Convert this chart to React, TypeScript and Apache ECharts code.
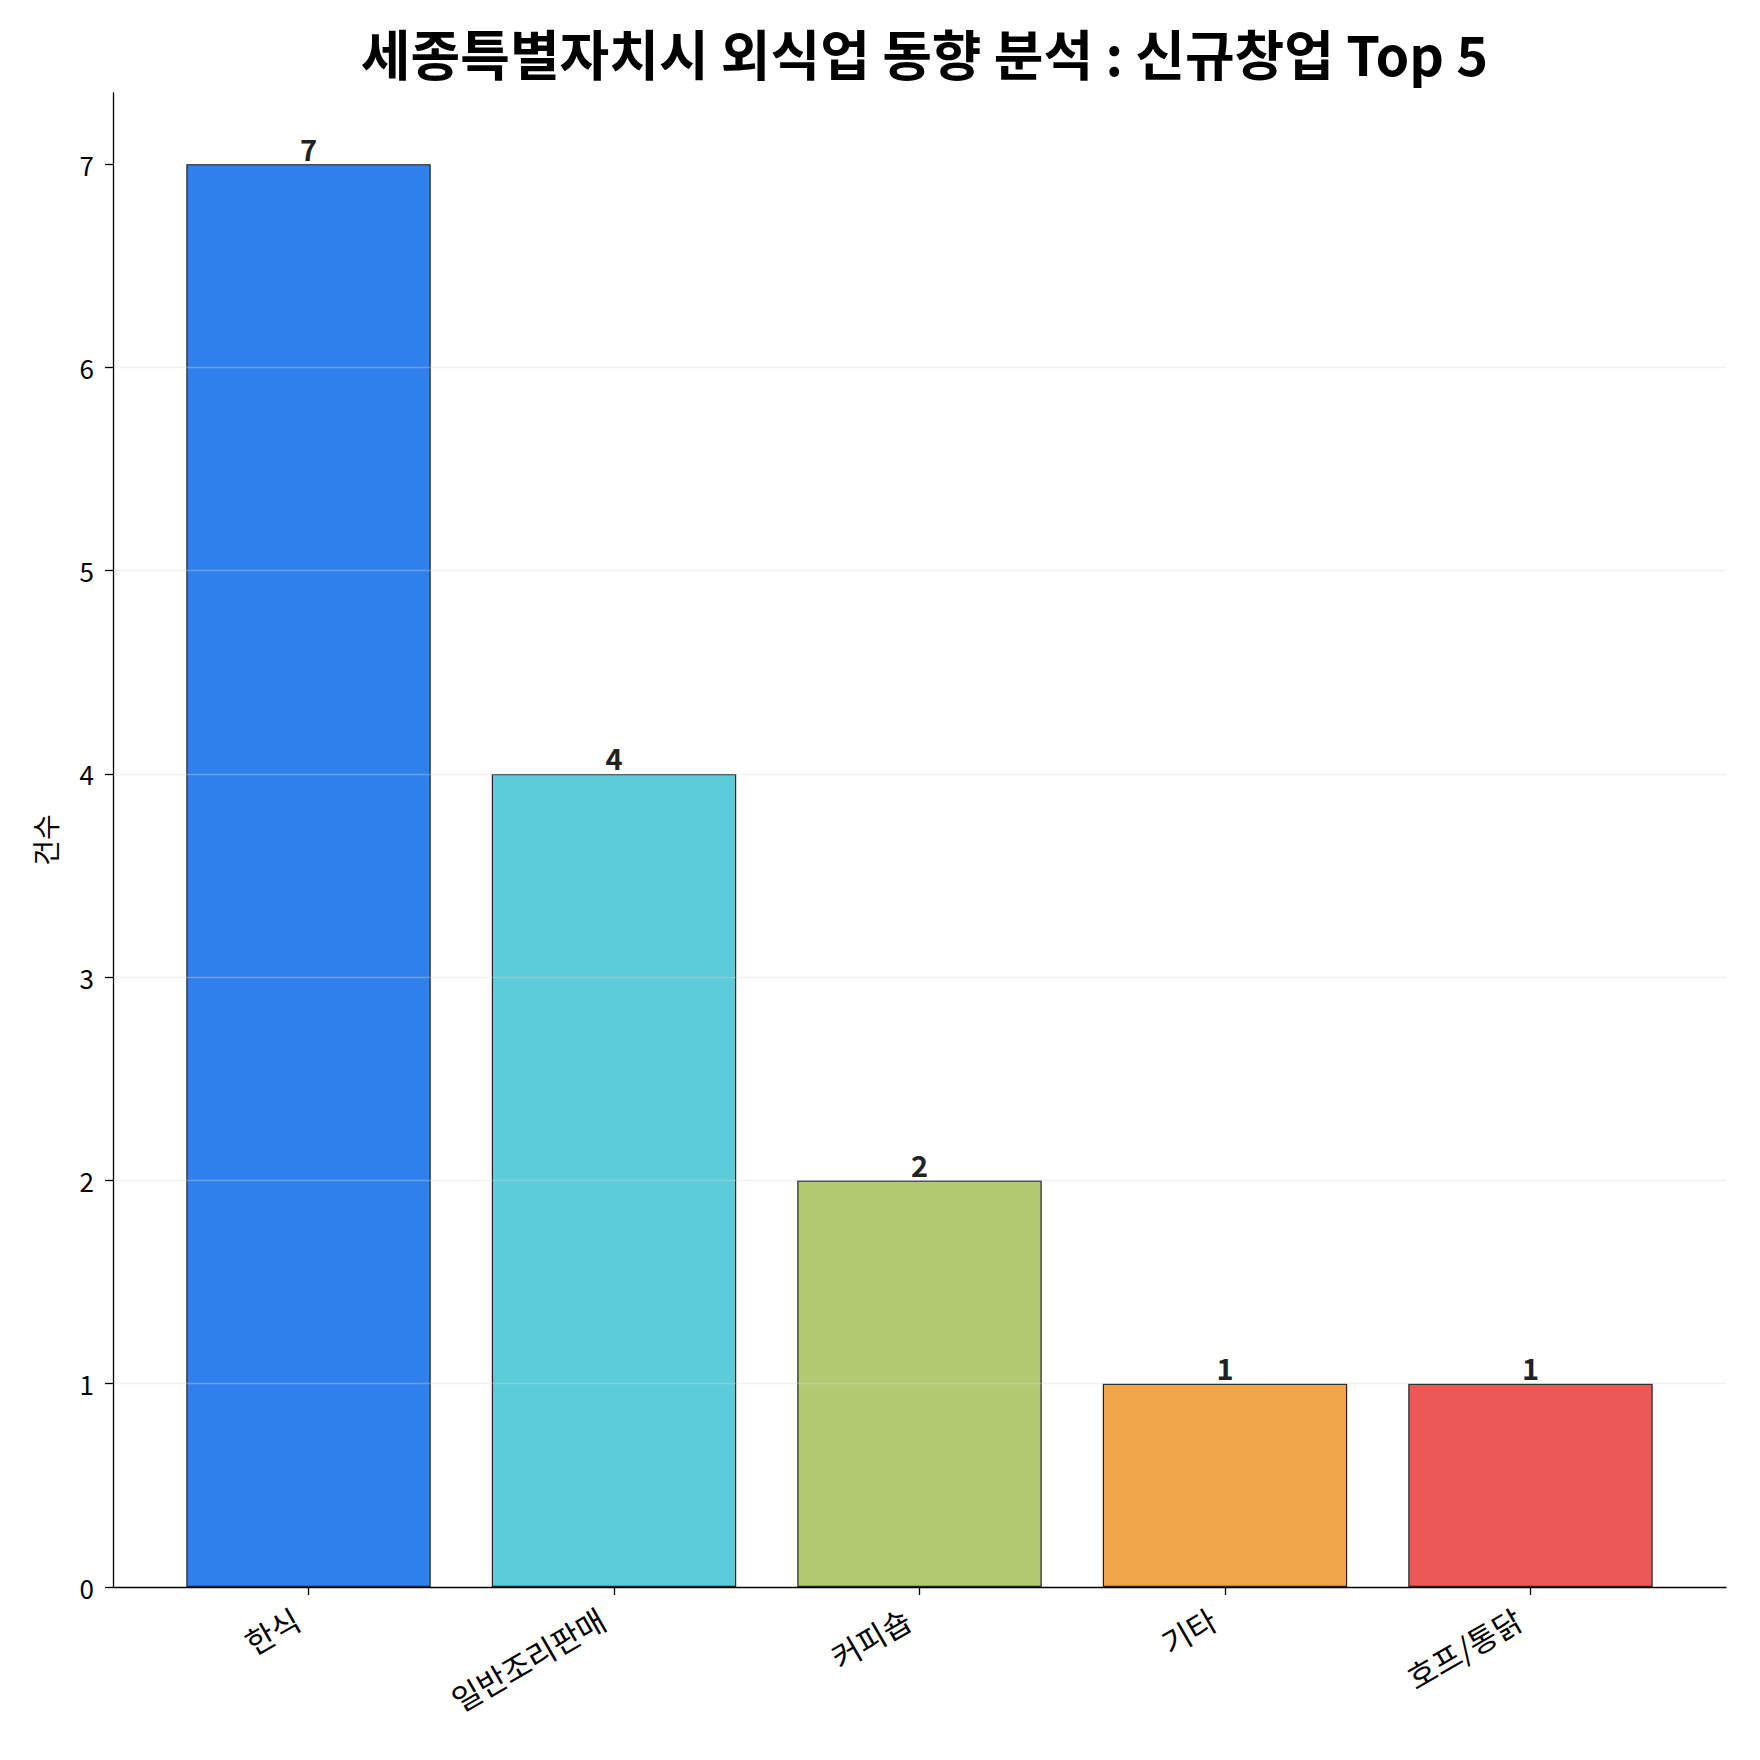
import { useEffect, useRef } from 'react';
import * as echarts from 'echarts';

const categories = ['한식', '일반조리판매', '커피숍', '기타', '호프/통닭'];
const counts = [7, 4, 2, 1, 1];
const barColors = ['#2f80ec', '#5ccbda', '#b2cb73', '#f0a54a', '#eb5858'];
const yTicks = [0, 1, 2, 3, 4, 5, 6, 7];

const W = 1760;
const H = 1760;
const GRID = { left: 113, right: 34, top: 93, bottom: 173 };
const X_MIN = -0.64;
const X_MAX = 4.64;
const FONT = "'Noto Sans CJK KR', 'Noto Sans', sans-serif";

export default function App() {
  const chartRef = useRef<HTMLDivElement>(null);

  useEffect(() => {
    document.body.style.margin = '0';
    if (!chartRef.current) return;
    const chart = echarts.init(chartRef.current, undefined, { renderer: 'svg' });

    const plotW = W - GRID.left - GRID.right;
    const barW = (plotW / (X_MAX - X_MIN)) * 0.8;
    const xIdx = categories.map((_, i) => i);

    chart.setOption({
      animation: false,
      backgroundColor: '#ffffff',
      textStyle: { fontFamily: FONT },
      title: {
        text: '세종특별자치시 외식업 동향 분석 : 신규창업 Top 5',
        left: GRID.left + plotW / 2,
        textAlign: 'center',
        top: 20,
        textStyle: { fontFamily: FONT, fontSize: 54, fontWeight: 'bold', color: '#000' },
      },
      grid: { ...GRID, containLabel: false },
      xAxis: {
        type: 'value',
        min: X_MIN,
        max: X_MAX,
        axisLine: { show: true, onZero: false, lineStyle: { color: '#000', width: 1.3 } },
        axisTick: {
          show: true,
          length: 8,
          customValues: xIdx,
          lineStyle: { color: '#000', width: 1.3 },
        },
        axisLabel: {
          customValues: xIdx,
          formatter: (v: number) => categories[Math.round(v)] ?? '',
          rotate: 30,
          margin: 22,
          padding: [0, 14, 0, 0],
          fontSize: 31,
          color: '#000',
          fontFamily: FONT,
        },
        splitLine: { show: false },
      },
      yAxis: {
        type: 'value',
        min: 0,
        max: 7.35,
        interval: 1,
        z: 5,
        name: '건수',
        nameLocation: 'middle',
        nameRotate: 90,
        nameGap: 54,
        nameTextStyle: { fontSize: 28, color: '#000', fontFamily: FONT },
        axisLine: { show: true, onZero: false, lineStyle: { color: '#000', width: 1.3 } },
        axisTick: {
          show: true,
          length: 8,
          customValues: yTicks,
          lineStyle: { color: '#000', width: 1.3 },
        },
        axisLabel: {
          customValues: yTicks,
          margin: 19,
          fontSize: 26,
          color: '#000',
          fontFamily: FONT,
        },
        splitLine: {
          show: true,
          showMinLine: false,
          showMaxLine: false,
          lineStyle: { color: 'rgba(215,215,215,0.35)', width: 1.3 },
        },
      },
      series: [
        {
          type: 'bar',
          barWidth: barW,
          data: counts.map((v, i) => ({
            value: [i, v],
            itemStyle: { color: barColors[i], borderColor: '#222', borderWidth: 1.2 },
          })),
          label: {
            show: true,
            position: 'top',
            distance: 2,
            formatter: (p: any) => String(p.value[1]),
            fontSize: 29,
            fontWeight: 'bold',
            color: '#222',
            fontFamily: FONT,
          },
        },
      ],
    });

    return () => chart.dispose();
  }, []);

  return <div ref={chartRef} style={{ width: W, height: H }} />;
}
